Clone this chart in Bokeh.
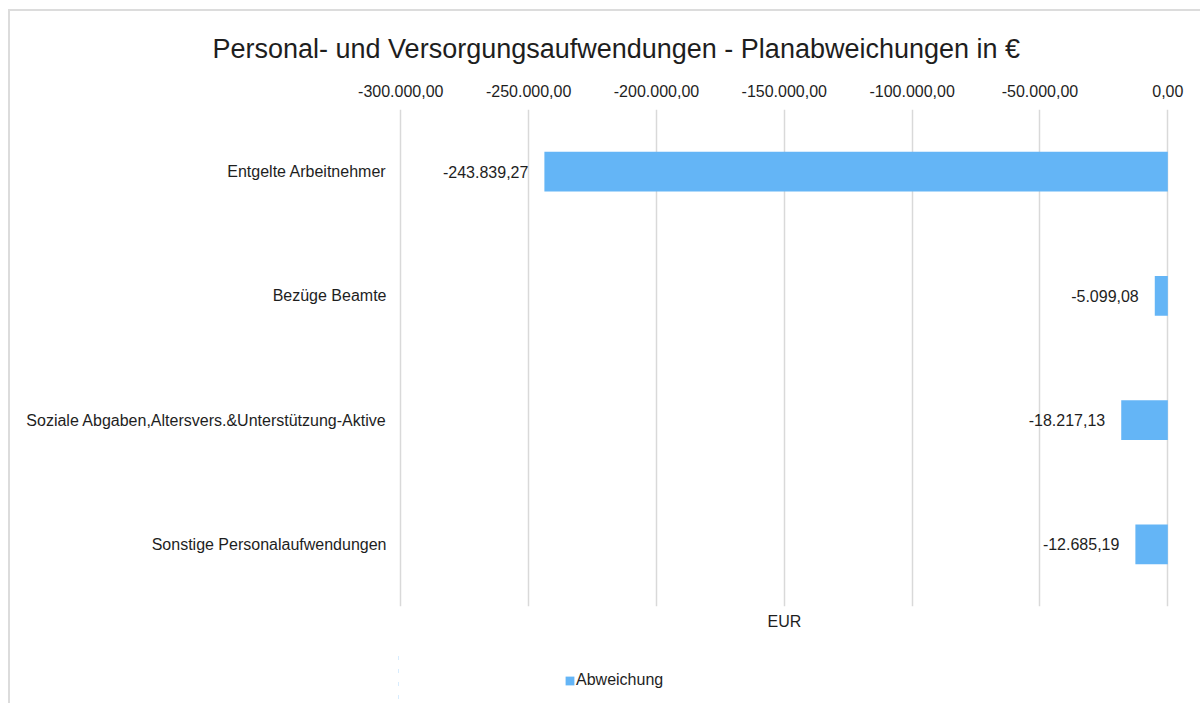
from bokeh.plotting import figure
from bokeh.layouts import column
from bokeh.models import (FactorRange, Range1d, FixedTicker, LinearAxis, Legend,
                          LegendItem, ColumnDataSource, LabelSet)
from bokeh.core.properties import value
from bokeh.embed import file_html
from bokeh.resources import INLINE

# ---- data ----
categories = ["Entgelte Arbeitnehmer",
              "Bezüge Beamte",
              "Soziale Abgaben,Altersvers.&Unterstützung-Aktive",
              "Sonstige Personalaufwendungen"]
values = [-243839.27, -5099.08, -18217.13, -12685.19]
value_labels = ["-243.839,27", "-5.099,08", "-18.217,13", "-12.685,19"]
tick_values = [-300000, -250000, -200000, -150000, -100000, -50000, 0]
tick_labels = ["-300.000,00", "-250.000,00", "-200.000,00", "-150.000,00",
               "-100.000,00", "-50.000,00", "0,00"]
series_name = "Abweichung"
title_text = "Personal- und Versorgungsaufwendungen - Planabweichungen in €"
x_axis_title = "EUR"

FONT = "Liberation Sans"
TXT = "#1e1e1e"
BAR = "#64B5F6"
GRID = "#d9d9d9"

src = ColumnDataSource(dict(cat=categories, val=values, lab=value_labels))

p = figure(frame_width=772, frame_height=497,
           y_range=FactorRange(factors=categories[::-1]),
           x_range=Range1d(-300900, 1050),
           x_axis_location="above",
           output_backend="svg", toolbar_location=None,
           min_border_left=388, min_border_right=30,
           min_border_top=98, min_border_bottom=45)
p.outline_line_color = None
p.background_fill_color = "white"
p.border_fill_color = "white"

bars = p.hbar(y="cat", left=0, right="val", height=0.32, source=src,
              fill_color=BAR, line_color=None)

labels = LabelSet(x="val", y="cat", text="lab", source=src, x_offset=-16,
                  text_align="right", text_baseline="middle",
                  text_font=value(FONT), text_font_size="16px", text_color=TXT)
p.add_layout(labels)

# title
p.title.text = title_text
p.title.align = "left"
p.title.offset = -186
p.title.text_font = FONT
p.title.text_font_size = "27px"
p.title.text_font_style = "normal"
p.title.text_color = TXT
p.title.standoff = 35

# top axis
xa = p.xaxis[0]
xa.ticker = FixedTicker(ticks=tick_values)
xa.major_label_overrides = {v: l for v, l in zip(tick_values, tick_labels)}
xa.axis_line_color = None
xa.major_tick_line_color = None
xa.minor_tick_line_color = None
xa.major_label_standoff = 7
xa.major_label_text_font = FONT
xa.major_label_text_font_size = "16px"
xa.major_label_text_color = TXT

# category axis
ya = p.yaxis[0]
ya.axis_line_color = None
ya.major_tick_line_color = None
ya.minor_tick_line_color = None
ya.major_label_standoff = 6
ya.major_label_text_font = FONT
ya.major_label_text_font_size = "16px"
ya.major_label_text_color = TXT

# grid
p.ygrid.grid_line_color = None
p.xgrid.ticker = FixedTicker(ticks=tick_values)
p.xgrid.grid_line_color = GRID
p.xgrid.grid_line_width = 1.5

# bottom axis title
ba = LinearAxis(ticker=FixedTicker(ticks=[]), axis_label=x_axis_title,
                axis_line_color=None, major_tick_line_color=None,
                minor_tick_line_color=None, major_label_standoff=0,
                major_tick_out=0, major_tick_in=0,
                axis_label_standoff=6, axis_label_text_font=FONT,
                axis_label_text_font_size="16px",
                axis_label_text_font_style="normal",
                axis_label_text_color=TXT)
p.add_layout(ba, "below")

# legend strip (separate small figure under the chart; its bars lie outside
# its visible range, only the legend entry shows)
p2 = figure(width=1190, height=52, x_range=Range1d(10, 20),
            y_range=FactorRange(factors=categories[::-1]),
            x_axis_type=None, y_axis_type=None, output_backend="svg",
            toolbar_location=None, min_border=0)
p2.outline_line_color = None
p2.background_fill_color = "white"
p2.border_fill_color = "white"
p2.xgrid.visible = False
p2.ygrid.visible = False
r2 = p2.hbar(y="cat", left=0, right="val", height=0.32, source=src,
             fill_color=BAR, line_color=None)
legend = Legend(items=[LegendItem(label=series_name, renderers=[r2])],
                location=(166, 14), orientation="horizontal",
                padding=0, margin=0, spacing=0, glyph_width=11, glyph_height=11,
                label_standoff=1, label_text_font=FONT,
                label_text_font_size="16px", label_text_color=TXT,
                border_line_color=None, background_fill_alpha=0)
p2.add_layout(legend)

layout = column(p, p2, spacing=0)
layout.styles = {"margin-top": "9px", "margin-left": "8px",
                 "border-top": "2px solid #dcdcdc",
                 "border-left": "2px solid #dcdcdc"}

open("out.html", "w").write(file_html(layout, INLINE))
